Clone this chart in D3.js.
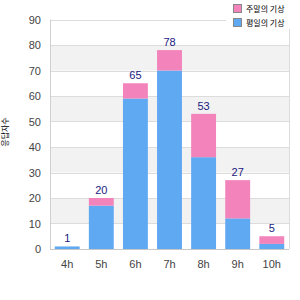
<!DOCTYPE html>
<html><head><meta charset="utf-8">
<script src="https://cdn.jsdelivr.net/npm/d3@7"></script>
<style>html,body{margin:0;padding:0;background:#fff;}svg{display:block;}</style>
</head><body>
<svg id="c" width="300" height="300"></svg>
<script>
const categories = ["4h","5h","6h","7h","8h","9h","10h"];
const blueValues = [1,17,59,70,36,12,2];
const pinkValues = [0,3,6,8,17,15,3];
const totals = [1,20,65,78,53,27,5];
const yTicks = [0,10,20,30,40,50,60,70,80,90];
const seriesNames = ["평일의 기상","주말의 기상"];
const yTitle = "응답자수";

const svg = d3.select("#c");
const m = {l:50, r:11, t:19.5, b:51};
const W = 300, H = 300;
const x = d3.scaleBand().domain(categories).range([m.l, W-m.r]).paddingInner(0.27).paddingOuter(0.14);
const y = d3.scaleLinear().domain([0,90]).range([H-m.b, m.t]);
const font = "Arial, 'Liberation Sans', sans-serif";
const cjk = "'Noto Sans CJK KR', sans-serif";

const bands = [[10,20],[30,40],[50,60],[70,80]];
svg.selectAll("rect.band").data(bands).enter().append("rect")
  .attr("x", m.l).attr("width", W-m.r-m.l)
  .attr("y", d=>y(d[1])).attr("height", d=>y(d[0])-y(d[1]))
  .attr("fill","#f2f2f2");
svg.selectAll("line.grid").data(yTicks).enter().append("line")
  .attr("x1", m.l).attr("x2", W-m.r)
  .attr("y1", d=>Math.round(y(d))+0.5).attr("y2", d=>Math.round(y(d))+0.5)
  .attr("stroke","#dcdcdc");
svg.append("line").attr("x1",W-m.r+0.5).attr("x2",W-m.r+0.5).attr("y1",y(90)).attr("y2",y(0)).attr("stroke","#dcdcdc");
svg.append("line").attr("x1",m.l+0.5).attr("x2",m.l+0.5).attr("y1",y(90)).attr("y2",y(0)).attr("stroke","#d0d0d0");
svg.append("line").attr("x1",m.l).attr("x2",W-m.r).attr("y1",Math.round(y(0))+0.5).attr("y2",Math.round(y(0))+0.5).attr("stroke","#c8c8c8");

const data = categories.map((c,i)=>({c, b:blueValues[i], p:pinkValues[i], t:totals[i]}));
svg.selectAll("rect.blue").data(data).enter().append("rect")
  .attr("x", d=>x(d.c)).attr("width", x.bandwidth())
  .attr("y", d=>y(d.b)).attr("height", d=>y(0)-y(d.b)).attr("fill","#5fa8f2");
svg.selectAll("rect.pink").data(data).enter().append("rect")
  .attr("x", d=>x(d.c)).attr("width", x.bandwidth())
  .attr("y", d=>y(d.b+d.p)).attr("height", d=>y(d.b)-y(d.b+d.p)).attr("fill","#f283bb");
svg.selectAll("text.lab").data(data).enter().append("text")
  .attr("x", d=>x(d.c)+x.bandwidth()/2).attr("y", d=>y(d.t)-4)
  .attr("text-anchor","middle").attr("font-family",font).attr("font-size",11)
  .attr("fill","#1a1a80").text(d=>d.t);

svg.selectAll("text.yt").data(yTicks).enter().append("text")
  .attr("x", 41).attr("y", d=>y(d)+4)
  .attr("text-anchor","end").attr("font-family",font).attr("font-size",11)
  .attr("fill","#444").text(d=>d);
svg.selectAll("text.xt").data(categories).enter().append("text")
  .attr("x", d=>x(d)+x.bandwidth()/2).attr("y", 268)
  .attr("text-anchor","middle").attr("font-family",font).attr("font-size",11)
  .attr("fill","#444").text(d=>d);
svg.append("text").attr("transform","translate(8,132) rotate(-90)")
  .attr("text-anchor","middle").attr("font-family",cjk).attr("font-size",8)
  .attr("fill","#000").text(yTitle);

svg.append("rect").attr("x",226).attr("y",0).attr("width",74).attr("height",29).attr("fill","#fff");
const legItems = [{n:seriesNames[1], c:"#f283bb"},{n:seriesNames[0], c:"#5fa8f2"}];
const lg = svg.selectAll("g.leg").data(legItems).enter().append("g")
  .attr("transform",(d,i)=>`translate(233,${4+i*14})`);
lg.append("rect").attr("x",0.5).attr("y",0.5).attr("width",8).attr("height",8)
  .attr("fill",d=>d.c).attr("stroke","#888");
lg.append("text").attr("x",13).attr("y",8).attr("font-family",cjk).attr("font-size",8)
  .attr("fill","#000").text(d=>d.n);
</script>
</body></html>
